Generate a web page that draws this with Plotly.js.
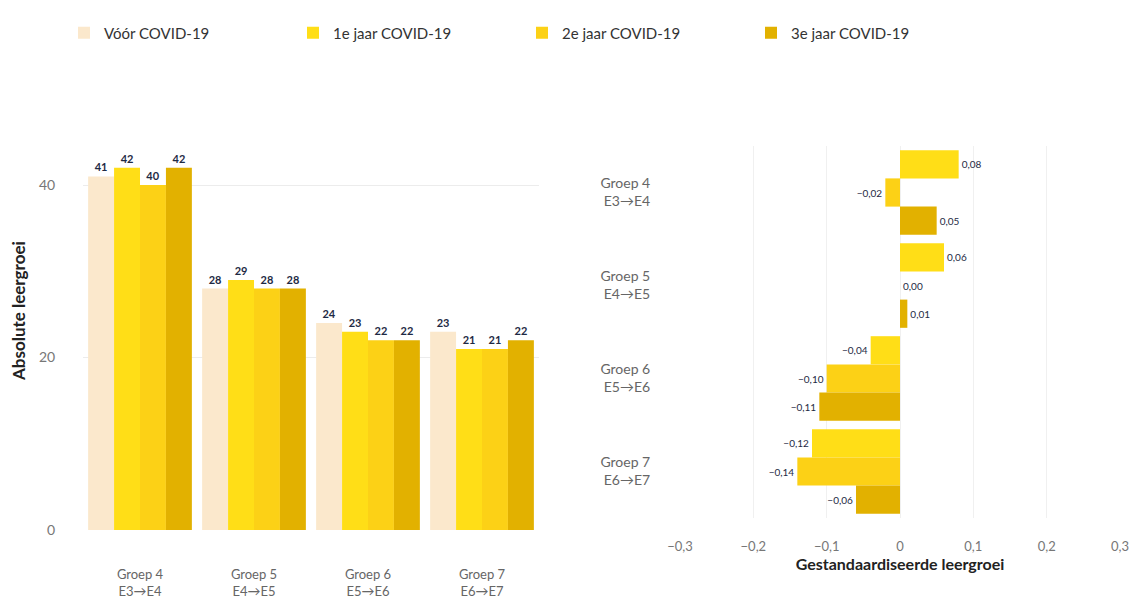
<!DOCTYPE html>
<html>
<head>
<meta charset="utf-8">
<script src="https://cdn.plot.ly/plotly-3.0.1.min.js"></script>
<style>html,body{margin:0;padding:0;background:#fff;}#chart{width:1135px;height:598px;}</style>
</head>
<body>
<div id="chart"></div>
<script>
// ---- data ----
var categories = ['Groep 4<br>E3→E4', 'Groep 5<br>E4→E5', 'Groep 6<br>E5→E6', 'Groep 7<br>E6→E7'];
var seriesNames = ['Vóór COVID-19', '1e jaar COVID-19', '2e jaar COVID-19', '3e jaar COVID-19'];
var absVoor = [41, 28, 24, 23];
var abs1e = [42, 29, 23, 21];
var abs2e = [40, 28, 22, 21];
var abs3e = [42, 28, 22, 22];
var std1e = [0.08, 0.06, -0.04, -0.12];
var std2e = [-0.02, 0.00, -0.10, -0.14];
var std3e = [0.05, 0.01, -0.11, -0.06];
var leftTicks = [0, 20, 40];
var rightTickVals = [-0.3, -0.2, -0.1, 0, 0.1, 0.2, 0.3];
var rightTickText = ['−0,3', '−0,2', '−0,1', '0', '0,1', '0,2', '0,3'];

// ---- style ----
var colors = ['#fbe8cc', '#ffde17', '#fcd116', '#e2b100'];
var labelColor = '#1e2a44';
var FONT = 'Lato, "Open Sans", sans-serif';

function fmt(v) { return v.toFixed(2).replace('.', ',').replace('-', '−'); }

var absSeries = [absVoor, abs1e, abs2e, abs3e];
var stdSeries = [std1e, std2e, std3e];
var traces = [];
absSeries.forEach(function (vals, i) {
  traces.push({
    type: 'bar', x: categories, y: vals, name: seriesNames[i],
    xaxis: 'x', yaxis: 'y',
    marker: { color: colors[i], line: { width: 0 } },
    text: vals.map(String), textposition: 'outside', cliponaxis: false,
    outsidetextfont: { family: FONT, size: 11, color: labelColor, weight: 'bold' },
    hoverinfo: 'x+y', showlegend: true
  });
});
stdSeries.forEach(function (vals, i) {
  traces.push({
    type: 'bar', orientation: 'h', y: categories, x: vals, name: seriesNames[i + 1],
    xaxis: 'x2', yaxis: 'y2',
    marker: { color: colors[i + 1], line: { width: 0 } },
    text: vals.map(fmt), textposition: 'outside', cliponaxis: false,
    outsidetextfont: { family: FONT, size: 10, color: labelColor },
    hoverinfo: 'x+y', showlegend: false
  });
});

var W = 1135, H = 598;
function px(x) { return x / W; }
function py(y) { return (H - y) / H; }

var layout = {
  width: W, height: H,
  margin: { l: 0, r: 0, t: 0, b: 0 },
  paper_bgcolor: '#ffffff', plot_bgcolor: '#ffffff',
  font: { family: FONT, size: 12, color: '#555' },
  barmode: 'group', bargap: 0.09, bargroupgap: 0,
  showlegend: true,
  legend: {
    orientation: 'h', x: px(64), y: py(33), xanchor: 'left', yanchor: 'middle',
    font: { family: FONT, size: 15, color: '#333' },
    entrywidth: 184, entrywidthmode: 'pixels', traceorder: 'normal'
  },
  xaxis: {
    domain: [px(83), px(539)], range: [-0.5, 3.5], type: 'category',
    showgrid: false, zeroline: false, showline: false,
    ticks: 'outside', ticklen: 32, tickcolor: 'rgba(0,0,0,0)',
    tickfont: { family: FONT, size: 13, color: '#666' }, fixedrange: true
  },
  yaxis: {
    domain: [py(530), py(142)], range: [0, 45],
    tickvals: leftTicks, showgrid: true, gridcolor: '#ececec', gridwidth: 1,
    zeroline: false, showline: false,
    ticks: 'outside', ticklen: 24, tickcolor: 'rgba(0,0,0,0)',
    tickfont: { family: FONT, size: 14, color: '#777' }, fixedrange: true
  },
  xaxis2: {
    domain: [px(680), px(1120)], range: [-0.3, 0.3],
    tickvals: rightTickVals, ticktext: rightTickText,
    showgrid: true, gridcolor: '#f0f0f0', zeroline: false, showline: false,
    ticks: 'outside', ticklen: 16, tickcolor: 'rgba(0,0,0,0)',
    tickfont: { family: FONT, size: 13, color: '#777' },
    title: { text: 'Gestandaardiseerde leergroei', standoff: 0, font: { family: FONT, size: 16, color: '#222', weight: 'bold' } },
    anchor: 'y2', fixedrange: true
  },
  yaxis2: {
    domain: [py(518), py(146)], type: 'category', autorange: 'reversed',
    showgrid: false, zeroline: false, showline: false,
    ticks: 'outside', ticklen: 26, tickcolor: 'rgba(0,0,0,0)',
    tickfont: { family: FONT, size: 14, color: '#666' },
    anchor: 'x2', fixedrange: true
  },
  annotations: [{
    text: 'Absolute leergroei', xref: 'paper', yref: 'paper',
    x: px(18), y: py(311), xanchor: 'center', yanchor: 'middle',
    textangle: -90, showarrow: false,
    font: { family: FONT, size: 17, color: '#222', weight: 'bold' }
  }]
};

Plotly.newPlot('chart', traces, layout, { displayModeBar: false, staticPlot: true });
</script>
</body>
</html>
